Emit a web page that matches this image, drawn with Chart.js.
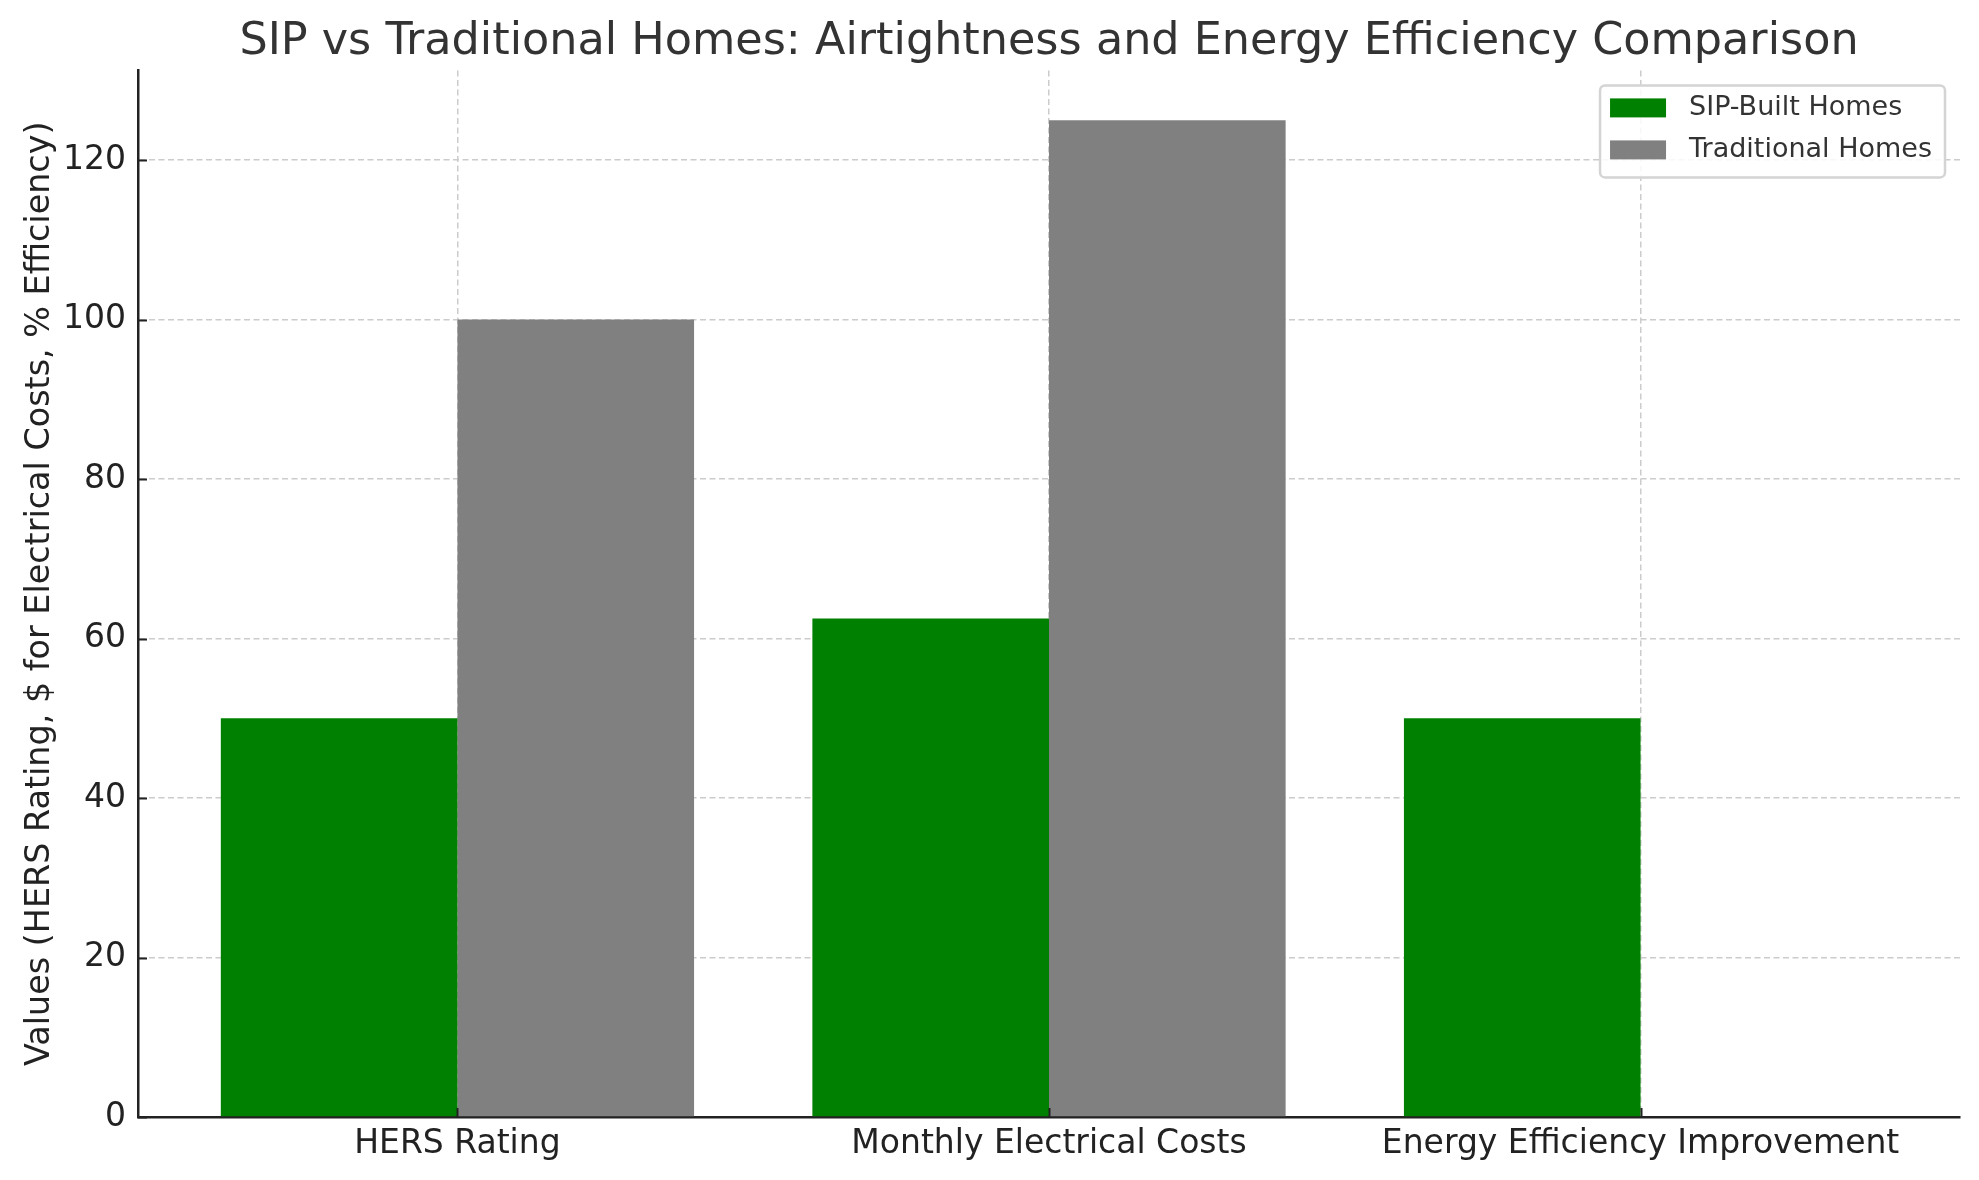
<!DOCTYPE html>
<html>
<head>
<meta charset="utf-8">
<script src="https://cdn.jsdelivr.net/npm/chart.js@4.4.0/dist/chart.umd.min.js"></script>
<style>
  html, body { margin: 0; padding: 0; background: #ffffff; }
  #wrap { width: 1979px; height: 1180px; }
</style>
</head>
<body>
<div id="wrap"><canvas id="chart" width="1979" height="1180"></canvas></div>
<script>
const categories = ['HERS Rating', 'Monthly Electrical Costs', 'Energy Efficiency Improvement'];
const sipValues = [50, 62.5, 50];
const traditionalValues = [100, 125, 0];
const yTicks = [0, 20, 40, 60, 80, 100, 120];
const seriesNames = ['SIP-Built Homes', 'Traditional Homes'];
const seriesColors = ['#008000', '#808080'];

const FONT = "'DejaVu Sans', sans-serif";
const gridColor = '#cccccc';
const axisColor = '#222222';

// ticks drawn inward, like the original
const innerTicks = {
    id: 'innerTicks',
    afterDraw(chart) {
        const ctx = chart.ctx;
        const area = chart.chartArea;
        const xs = chart.scales.x, ys = chart.scales.y;
        ctx.save();
        ctx.strokeStyle = axisColor;
        ctx.lineWidth = 2;
        ctx.beginPath();
        yTicks.forEach(v => {
            const py = Math.round(ys.getPixelForValue(v)) + 0.5;
            ctx.moveTo(area.left, py);
            ctx.lineTo(area.left + 9, py);
        });
        categories.forEach((c, i) => {
            const px = Math.round(xs.getPixelForValue(i)) + 0.5;
            ctx.moveTo(px, area.bottom);
            ctx.lineTo(px, area.bottom - 9);
        });
        ctx.stroke();
        ctx.restore();
    }
};

// legend box in the upper right corner of the plot
const boxLegend = {
    id: 'boxLegend',
    afterDraw(chart) {
        const ctx = chart.ctx;
        const area = chart.chartArea;
        ctx.save();
        ctx.font = '27px ' + FONT;
        const textW = Math.max(...seriesNames.map(n => ctx.measureText(n).width));
        const w = 89 + textW + 13;
        const h = 92;
        const right = area.right - 15;
        const left = right - w;
        const top = area.top + 15;

        ctx.beginPath();
        ctx.roundRect(left, top, w, h, 5);
        ctx.fillStyle = 'rgba(255,255,255,0.85)';
        ctx.fill();
        ctx.lineWidth = 2.5;
        ctx.strokeStyle = '#d4d4d4';
        ctx.stroke();

        seriesNames.forEach((name, i) => {
            const cy = top + 23 + i * 42;
            ctx.fillStyle = seriesColors[i];
            ctx.fillRect(left + 10, cy - 10, 56, 19);
            ctx.fillStyle = '#333333';
            ctx.textBaseline = 'middle';
            ctx.textAlign = 'left';
            ctx.fillText(name, left + 89, cy);
        });
        ctx.restore();
    }
};

const ctx = document.getElementById('chart').getContext('2d');
const chart = new Chart(ctx, {
    type: 'bar',
    data: {
        datasets: [{
            label: seriesNames[0],
            data: sipValues.map((v, i) => ({ x: i, y: v })),
            backgroundColor: seriesColors[0],
            barPercentage: 1,
            categoryPercentage: 0.8
        }, {
            label: seriesNames[1],
            data: traditionalValues.map((v, i) => ({ x: i, y: v })),
            backgroundColor: seriesColors[1],
            barPercentage: 1,
            categoryPercentage: 0.8
        }]
    },
    options: {
        responsive: false,
        animation: false,
        devicePixelRatio: 1,
        layout: { padding: { left: 8, right: 19, top: 0, bottom: 0 } },
        plugins: {
            legend: { display: false },
            tooltip: { enabled: false },
            title: {
                display: true,
                fullSize: false,
                text: 'SIP vs Traditional Homes: Airtightness and Energy Efficiency Comparison',
                color: '#333333',
                font: { family: FONT, size: 44.5, weight: 'normal', lineHeight: 1.2 },
                padding: { top: 16, bottom: 1 }
            }
        },
        scales: {
            x: {
                type: 'linear',
                min: -0.54,
                max: 2.54,
                offset: false,
                z: 1,
                afterBuildTicks: s => { s.ticks = categories.map((c, i) => ({ value: i })); },
                afterFit: s => { s.height = 63; },
                ticks: {
                    callback: v => categories[v],
                    color: axisColor,
                    font: { family: FONT, size: 33 },
                    padding: 8,
                    maxRotation: 0,
                    autoSkip: false
                },
                grid: { color: gridColor, lineWidth: 1.5, drawTicks: false, offset: false },
                border: { display: true, color: axisColor, width: 2.5, dash: [6, 3.5] }
            },
            y: {
                min: 0,
                max: 131.25,
                z: 1,
                afterBuildTicks: s => { s.ticks = yTicks.map(v => ({ value: v })); },
                afterFit: s => { s.width = 130; },
                ticks: {
                    color: axisColor,
                    font: { family: FONT, size: 33 },
                    padding: 12
                },
                title: {
                    display: true,
                    text: 'Values (HERS Rating, $ for Electrical Costs, % Efficiency)',
                    color: axisColor,
                    font: { family: FONT, size: 33.4 },
                    padding: { top: 12, bottom: 0 }
                },
                grid: { color: gridColor, lineWidth: 1.5, drawTicks: false },
                border: { display: true, color: axisColor, width: 2.5, dash: [6, 3.5] }
            }
        }
    },
    plugins: [innerTicks, boxLegend]
});
</script>
</body>
</html>
